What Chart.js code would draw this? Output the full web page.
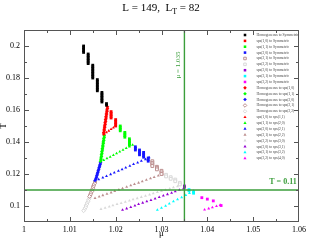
<!DOCTYPE html>
<html>
<head>
<meta charset="utf-8">
<script src="https://cdn.jsdelivr.net/npm/chart.js@4"></script>
<style>
  body { margin: 0; background: #fff; }
</style>
</head>
<body>
<canvas id="chart" width="309" height="240"></canvas>
<script>
// squares: X to Symmetric
const homSymMu = [1.013,1.013,1.013,1.013,1.013, 1.014,1.014,1.014,1.014,1.014,1.014,1.014,
  1.015,1.015,1.015,1.015,1.015,1.015,1.015,1.015,1.015, 1.016,1.016,1.016,1.016,1.016,1.016,1.016,1.016,
  1.017,1.017,1.017,1.017,1.017,1.017,1.017, 1.018,1.018];
const homSymT = [0.200,0.199,0.198,0.197,0.196, 0.195,0.194,0.193,0.192,0.191,0.190,0.189,
  0.188,0.187,0.186,0.185,0.184,0.183,0.182,0.181,0.180, 0.179,0.178,0.177,0.176,0.175,0.174,0.173,0.172,
  0.171,0.170,0.169,0.168,0.167,0.166,0.165, 0.164,0.163];
const s10SymMu = [1.019,1.019,1.019,1.019,1.019, 1.020,1.020,1.020,1.020,1.020];
const s10SymT = [0.159,0.158,0.157,0.156,0.155, 0.154,0.153,0.152,0.151,0.150];
const s11SymMu = [1.021,1.021,1.021,1.021, 1.022,1.022,1.022,1.022, 1.023,1.023,1.023,1.023,1.023];
const s11SymT = [0.150,0.149,0.148,0.147, 0.146,0.145,0.144,0.143, 0.142,0.141,0.140,0.139,0.138];
const s20SymMu = [1.0243,1.0243,1.0243, 1.0252,1.0252,1.0252,1.0252, 1.0261,1.0261,1.0261,1.0261, 1.0271,1.0271,1.0271];
const s20SymT = [0.137,0.136,0.135, 0.135,0.134,0.133,0.132, 0.1335,0.1325,0.1315,0.1305, 0.130,0.129,0.128];
const s21SymMu = [1.028,1.028,1.028,1.028, 1.029,1.029,1.029, 1.030,1.030,1.030];
const s21SymT = [0.128,0.127,0.126,0.125, 0.1245,0.1237,0.1229, 0.122,0.121,0.120];
const s22SymMu = [1.031,1.031,1.032,1.032,1.033,1.033,1.034,1.034];
const s22SymT = [0.1195,0.1185,0.118,0.117,0.1165,0.1155,0.1145,0.1135];
const s30SymMu = [1.035,1.035];
const s30SymT = [0.1125,0.1117];
const s31SymMu = [1.036,1.036,1.037,1.037];
const s31SymT = [0.1102,0.1095,0.1088,0.1080];
const s32SymMu = [1.0388,1.0400,1.0413,1.0430];
const s32SymT = [0.1052,0.1043,0.1032,0.1003];

// diamonds: Homogeneous to X
const hom10Mu = [1.0182,1.0182,1.0181,1.0181,1.0180,1.0180,1.0179,1.0179,1.0178,1.0178,1.0177,1.0177,1.0176,1.0176,1.0175,1.0175,1.0174,1.0174];
const hom10T = [0.162,0.161,0.160,0.159,0.158,0.157,0.156,0.155,0.154,0.153,0.152,0.151,0.150,0.149,0.148,0.147,0.146,0.145];
const hom11Mu = [1.0175,1.0175,1.0174,1.0174,1.0173,1.0173,1.0172,1.0172,1.0171,1.0171,1.0170,1.0170,1.0169,1.0169,1.0168,1.0168,1.0167];
const hom11T = [0.144,0.143,0.142,0.141,0.140,0.139,0.138,0.137,0.136,0.135,0.134,0.133,0.132,0.131,0.130,0.129,0.128];
const hom20Mu = [1.0167,1.0166,1.0165,1.0164,1.0163,1.0162,1.0161,1.0160,1.0159,1.0158,1.0157,1.0155];
const hom20T = [0.127,0.126,0.125,0.124,0.123,0.122,0.121,0.120,0.119,0.118,0.117,0.116];
const hom21Mu = [1.0155,1.0154,1.0152,1.0151,1.0150,1.0149,1.0148,1.0146,1.0145,1.0143];
const hom21T = [0.115,0.114,0.113,0.112,0.111,0.110,0.109,0.108,0.107,0.106];
const hom22Mu = [1.0143,1.0141,1.0140,1.0138,1.0137,1.0135,1.0134,1.0132,1.0130];
const hom22T = [0.105,0.104,0.103,0.102,0.101,0.100,0.099,0.098,0.097];

// triangles: X to Y
const t1011Mu = [1.0200,1.0195,1.0190,1.0185,1.0180,1.0175];
const t1011T = [0.1500,0.1490,0.1480,0.1470,0.1460,0.1450];
const t1120Mu = [1.0167,1.0174,1.0181,1.0188,1.0195,1.0202,1.0209,1.0216,1.0223,1.0230,1.0237];
const t1120T = [0.1275,0.1286,0.1297,0.1307,0.1318,0.1329,0.1339,0.1350,0.1361,0.1371,0.1382];
const t2021Mu = [1.0155,1.0163,1.0172,1.0180,1.0189,1.0197,1.0206,1.0214,1.0222,1.0231,1.0239,1.0248,1.0256,1.0265,1.0273];
const t2021T = [0.1156,0.1166,0.1177,0.1187,0.1198,0.1208,0.1219,0.1229,0.1240,0.1250,0.1261,0.1271,0.1282,0.1292,0.1303];
const t2122Mu = [1.0155,1.0164,1.0172,1.0181,1.0190,1.0198,1.0207,1.0215,1.0224,1.0233,1.0241,1.0250,1.0258,1.0267,1.0276,1.0284,1.0293,1.0302];
const t2122T = [0.1049,0.1058,0.1067,0.1075,0.1084,0.1093,0.1102,0.1110,0.1119,0.1128,0.1137,0.1145,0.1154,0.1163,0.1172,0.1180,0.1189,0.1198];
const t2230Mu = [1.0168,1.0177,1.0186,1.0194,1.0203,1.0212,1.0221,1.0230,1.0238,1.0247,1.0256,1.0265,1.0274,1.0282,1.0291,1.0300,1.0309,1.0318,1.0326,1.0335];
const t2230T = [0.0981,0.0988,0.0996,0.1003,0.1011,0.1018,0.1026,0.1033,0.1041,0.1048,0.1056,0.1063,0.1071,0.1078,0.1086,0.1093,0.1101,0.1108,0.1116,0.1123];
const t3031Mu = [1.0215,1.0224,1.0233,1.0242,1.0250,1.0259,1.0268,1.0277,1.0286,1.0295,1.0304,1.0313,1.0322,1.0330,1.0339,1.0348];
const t3031T = [0.0975,0.0984,0.0993,0.1002,0.1011,0.1020,0.1029,0.1037,0.1046,0.1055,0.1064,0.1073,0.1082,0.1091,0.1100,0.1109];
const t3132Mu = [1.0291,1.0300,1.0309,1.0317,1.0326,1.0335,1.0344,1.0353,1.0361,1.0370];
const t3132T = [0.0975,0.0988,0.1001,0.1015,0.1028,0.1041,0.1054,0.1068,0.1081,0.1094];
const t3240Mu = [1.0394,1.0403,1.0411,1.0420,1.0428];
const t3240T = [0.0977,0.0984,0.0991,0.0999,0.1006];

const muLine = 1.035;
const tLine = 0.11;
const xMin = 1, xMax = 1.06, yMin = 0.09, yMax = 0.21;

const lineGreen = "#3b9e3b";
const pts = (mu, t) => mu.map((m, i) => ({ x: m, y: t[i] }));

// marker helpers
const sq = (label, mu, t, color, open) => ({
  label, data: pts(mu, t), pointStyle: "rect", pointRadius: 2,
  backgroundColor: open ? "#fff" : color, borderColor: color, borderWidth: open ? 1 : 0,
});
const dia = (label, mu, t, color, open) => ({
  label, data: pts(mu, t), pointStyle: "rectRot", pointRadius: 1.9,
  backgroundColor: open ? "#fff" : color, borderColor: color, borderWidth: open ? 1 : 0,
});
const tri = (label, mu, t, color) => ({
  label, data: pts(mu, t), pointStyle: "triangle", pointRadius: 1.7,
  backgroundColor: color, borderColor: color, borderWidth: 0,
});

const red = "#ff0000", green = "#00ff00", blue = "#1515ff", brown = "#bc8f8f",
  grey = "#d8d8d8", purple = "#9400d3", cyan = "#00ffff", magenta = "#ff00ff";

const datasets = [
  sq("Homogeneous to Symmetric", homSymMu, homSymT, "#000"),
  sq("sps(1,0) to Symmetric", s10SymMu, s10SymT, red),
  sq("sps(1,1) to Symmetric", s11SymMu, s11SymT, green),
  sq("sps(2,0) to Symmetric", s20SymMu, s20SymT, blue),
  sq("sps(2,1) to Symmetric", s21SymMu, s21SymT, brown, true),
  sq("sps(2,2) to Symmetric", s22SymMu, s22SymT, grey, true),
  sq("sps(3,0) to Symmetric", s30SymMu, s30SymT, purple),
  sq("sps(3,1) to Symmetric", s31SymMu, s31SymT, cyan),
  sq("sps(3,2) to Symmetric", s32SymMu, s32SymT, magenta),
  dia("Homogeneous to sps(1,0)", hom10Mu, hom10T, red),
  dia("Homogeneous to sps(1,1)", hom11Mu, hom11T, green),
  dia("Homogeneous to sps(2,0)", hom20Mu, hom20T, blue),
  dia("Homogeneous to sps(2,1)", hom21Mu, hom21T, brown, true),
  dia("Homogeneous to sps(2,2)", hom22Mu, hom22T, grey, true),
  tri("sps(1,0) to sps(1,1)", t1011Mu, t1011T, red),
  tri("sps(1,1) to sps(2,0)", t1120Mu, t1120T, green),
  tri("sps(2,0) to sps(2,1)", t2021Mu, t2021T, blue),
  tri("sps(2,1) to sps(2,2)", t2122Mu, t2122T, brown),
  tri("sps(2,2) to sps(3,0)", t2230Mu, t2230T, grey),
  tri("sps(3,0) to sps(3,1)", t3031Mu, t3031T, purple),
  tri("sps(3,1) to sps(3,2)", t3132Mu, t3132T, cyan),
  tri("sps(3,2) to sps(4,0)", t3240Mu, t3240T, magenta),
];

const guides = [
  { label: "", guide: true, data: [{ x: muLine, y: yMin }, { x: muLine, y: yMax }],
    showLine: true, borderColor: lineGreen, borderWidth: 1.4, pointRadius: 0 },
  { label: "", guide: true, data: [{ x: xMin, y: tLine }, { x: xMax, y: tLine }],
    showLine: true, borderColor: lineGreen, borderWidth: 1.4, pointRadius: 0 },
];

const serif = '"Liberation Serif", "DejaVu Serif", serif';

const decor = {
  id: "decor",
  afterDraw(chart) {
    const c = chart.ctx, a = chart.chartArea;
    const xs = chart.scales.x, ys = chart.scales.y;
    c.save();
    // frame
    c.strokeStyle = "#555";
    c.lineWidth = 1;
    c.strokeRect(a.left + 0.5, a.top + 0.5, a.right - a.left - 1, a.bottom - a.top - 1);
    // inward ticks
    c.beginPath();
    xs.ticks.forEach((t) => {
      if (t.value <= xMin + 1e-9 || t.value >= xMax - 1e-9) return;
      const px = Math.round(xs.getPixelForValue(t.value)) + 0.5;
      const len = Math.round(t.value * 1000) % 10 === 0 ? 5 : 3;
      c.moveTo(px, a.bottom); c.lineTo(px, a.bottom - len);
      c.moveTo(px, a.top); c.lineTo(px, a.top + len);
    });
    ys.ticks.forEach((t) => {
      if (t.value <= yMin + 1e-9 || t.value >= yMax - 1e-9) return;
      const py = Math.round(ys.getPixelForValue(t.value)) + 0.5;
      const len = Math.round(t.value * 100) % 2 === 0 ? 5 : 3;
      c.moveTo(a.left, py); c.lineTo(a.left + len, py);
      c.moveTo(a.right, py); c.lineTo(a.right - len, py);
    });
    c.stroke();

    // title with subscript
    c.fillStyle = "#000";
    c.textBaseline = "alphabetic";
    c.textAlign = "left";
    const big = "11px " + serif, small = "8px " + serif;
    const p1 = "L = 149,  L", p2 = "T", p3 = " = 82";
    c.font = big; const w1 = c.measureText(p1).width, w3 = c.measureText(p3).width;
    c.font = small; const w2 = c.measureText(p2).width;
    let tx = 161 - (w1 + w2 + w3) / 2;
    c.font = big; c.fillText(p1, tx, 11); tx += w1;
    c.font = small; c.fillText(p2, tx, 14); tx += w2;
    c.font = big; c.fillText(p3, tx, 11);

    // axis titles
    c.font = "9px " + serif;
    c.textAlign = "center";
    c.textBaseline = "middle";
    c.fillText("\u03bc", (a.left + a.right) / 2, 234);
    c.save();
    c.translate(4, (a.top + a.bottom) / 2);
    c.rotate(-Math.PI / 2);
    c.fillText("T", 0, 0);
    c.restore();

    // guide labels
    c.fillStyle = lineGreen;
    c.save();
    c.translate(xs.getPixelForValue(muLine) - 6, 65);
    c.rotate(-Math.PI / 2);
    c.font = "7px " + serif;
    c.fillText("\u03bc = 1.035", 0, 0);
    c.restore();
    c.font = "bold 8px " + serif;
    c.fillText("T = 0.11", 283, ys.getPixelForValue(tLine) - 8);

    // legend
    c.font = "3.7px " + serif;
    c.textAlign = "left";
    c.textBaseline = "middle";
    chart.data.datasets.forEach((ds, i) => {
      if (ds.guide) return;
      const ly = 35 + (i - guides.length) * 5.87;
      c.fillStyle = ds.backgroundColor;
      c.strokeStyle = ds.borderColor;
      c.lineWidth = ds.borderWidth;
      Chart.helpers.drawPoint(c, { pointStyle: ds.pointStyle, radius: 1.8, rotation: 0, borderWidth: ds.borderWidth }, 245, ly);
      c.fillStyle = "#444";
      c.fillText(ds.label, 256.5, ly);
    });
    c.restore();
  },
};

new Chart(document.getElementById("chart"), {
  type: "scatter",
  data: { datasets: [...guides, ...datasets] },
  options: {
    responsive: false,
    animation: false,
    layout: { padding: { top: 30, right: 8, left: 0, bottom: 0 } },
    plugins: { legend: { display: false }, tooltip: { enabled: false } },
    scales: {
      x: {
        type: "linear", min: xMin, max: xMax,
        afterFit: (s) => { s.height = 18; },
        grid: { display: false, drawTicks: false },
        border: { display: false },
        ticks: {
          stepSize: 0.005, padding: 3, color: "#000", maxRotation: 0, autoSkip: false,
          font: { family: serif, size: 8 },
          callback: (v) => (Math.round(v * 1000) % 10 === 0 ? String(+v.toFixed(2)) : ""),
        },
      },
      y: {
        type: "linear", min: yMin, max: yMax,
        afterFit: (s) => { s.width = 24; },
        grid: { display: false, drawTicks: false },
        border: { display: false },
        ticks: {
          stepSize: 0.01, padding: 4, color: "#000", autoSkip: false,
          font: { family: serif, size: 8 },
          callback: (v) => (Math.round(v * 100) % 2 === 0 ? String(+v.toFixed(2)) : ""),
        },
      },
    },
  },
  plugins: [decor],
});
</script>
</body>
</html>
